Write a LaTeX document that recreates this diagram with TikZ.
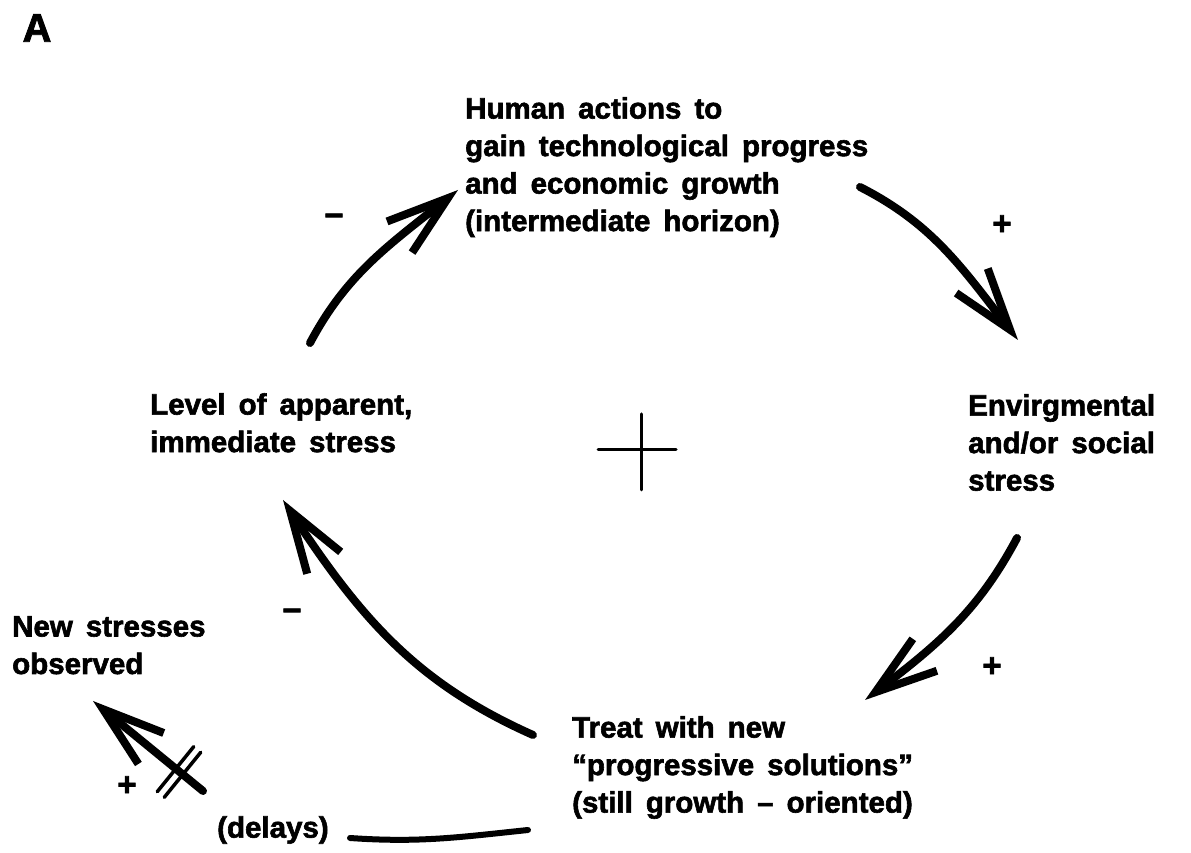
\documentclass[tikz,border=0pt]{standalone}
\usepackage{fontspec}
\setmainfont{Liberation Sans}[BoldFeatures={FakeBold=2}]
\usetikzlibrary{arrows.meta,bending}

% bold face with the wide inter-word gaps of the typewritten labels
\newcommand{\labelfont}{\bfseries\fontsize{29.5}{37.5}\selectfont}
\newcommand{\widegaps}{\spaceskip=13pt plus 2pt minus 2pt\relax}

\tikzset{
  lbl/.style={font=\labelfont, align=left, anchor=north west, inner sep=0pt,
              execute at begin node=\widegaps},
  sign/.style={font=\bfseries\fontsize{33}{36}\selectfont, inner sep=0pt},
  flow/.style={line width=8pt, line cap=round,
               -{Straight Barb[length=62pt,width=40pt,line width=8pt]}},
  thinstroke/.style={line width=3pt, line cap=round},
}

\begin{document}
\begin{tikzpicture}[x=1pt,y=1pt]
  \useasboundingbox (0,0) rectangle (1191,853);

  % panel letter
  \node[font=\bfseries\fontsize{40}{40}\selectfont, inner sep=0pt] (panel) at (37,825) {A};

  % the four stages of the loop
  \node[lbl] (human) at (465,756)
    {Human actions to\\gain technological progress\\and economic growth\\(intermediate horizon)};
  \node[lbl] (env) at (968,459)
    {Envirgmental\\and/or social\\stress};
  \node[lbl] (treat) at (572,137)
    {Treat with new\\“progressive solutions”\\(still growth – oriented)};
  \node[lbl] (level) at (150,460)
    {Level of apparent,\\immediate stress};

  % side branch
  \node[lbl] (newst) at (12,237) {New stresses\\observed};
  \node[font=\labelfont, inner sep=0pt, anchor=west] (delays) at (217,23) {(delays)};

  % link polarities
  \node[sign] (p1) at (1002,628) {+};
  \node[sign] (p2) at (992,186) {+};
  \node[sign] (p3) at (127,67) {+};
  \node[sign] (m1) at (334,633) {−};
  \node[sign] (m2) at (292,238) {−};

  % loop polarity mark in the centre
  \coordinate (loop) at (641,403);
  \draw[thinstroke] ([xshift=-43pt]loop) -- ([xshift=35pt]loop);
  \draw[thinstroke] ([yshift=36pt]loop) -- ([yshift=-40pt]loop);

  % arrow end points
  \coordinate (a1s) at (310,510);  \coordinate (a1e) at (458,663);
  \coordinate (a2s) at (860,666);  \coordinate (a2e) at (1018,513);
  \coordinate (a3s) at (1017,315); \coordinate (a3e) at (865,153);
  \coordinate (a4s) at (533,118);  \coordinate (a4e) at (283,353);
  \coordinate (d1)  at (528,23);   \coordinate (d2)  at (350,15);
  \coordinate (a5s) at (203,62);   \coordinate (a5e) at (93,152);

  % main loop
  \draw[flow] (a1s) to[out=62,in=219] (a1e);
  \draw[flow] (a2s) to[out=-27,in=128] (a2e);
  \draw[flow] (a3s) to[out=242,in=37] (a3e);
  \draw[flow] (a4s) to[out=156,in=-57] (a4e);

  % delayed side effect
  \draw[line width=6pt, line cap=round] (d1) to[out=186,in=-4] (d2);
  \draw[flow] (a5s) -- (a5e);
  \coordinate (delaymark) at (179,81);
  \begin{scope}[shift={(delaymark)}, rotate=51]
    \draw[line width=3.5pt, line cap=round] (-29,-4.5) -- (29,-4.5);
    \draw[line width=3.5pt, line cap=round] (-29,4.5) -- (29,4.5);
  \end{scope}
\end{tikzpicture}
\end{document}
